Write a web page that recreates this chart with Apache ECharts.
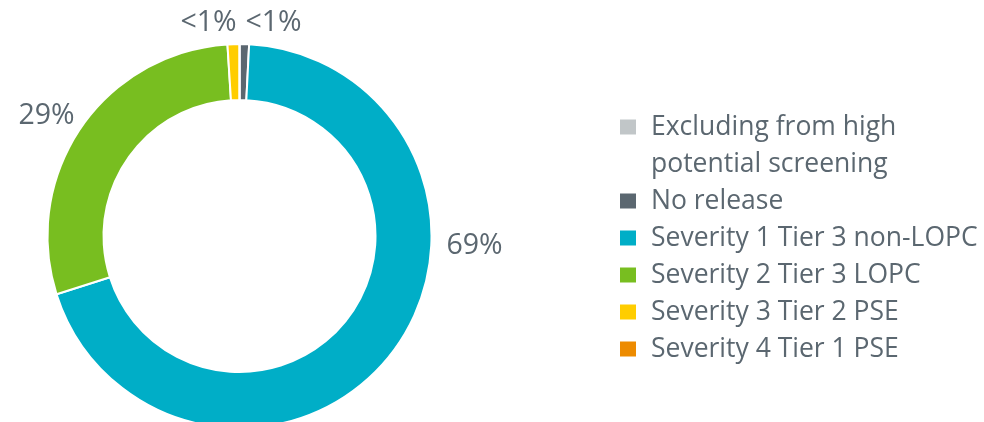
<!DOCTYPE html>
<html>
<head>
<meta charset="utf-8">
<script src="https://cdn.jsdelivr.net/npm/echarts@6/dist/echarts.min.js"></script>
<style>
html,body{margin:0;padding:0;background:#fff;}
#chart{width:984px;height:422px;}
</style>
</head>
<body>
<div id="chart"></div>
<script>
// ---- data ----
var categories = [
  'Excluding from high\npotential screening',
  'No release',
  'Severity 1 Tier 3 non-LOPC',
  'Severity 2 Tier 3 LOPC',
  'Severity 3 Tier 2 PSE',
  'Severity 4 Tier 1 PSE'
];
var values = [0, 0.8, 69.3, 28.9, 1.0, 0];
var valueLabels = ['', '<1%', '69%', '29%', '<1%', ''];
var colors = ['#c1c6c8', '#5b6770', '#00aec7', '#78be20', '#ffcd00', '#ed8b00'];

// ---- layout / styles ----
var textColor = '#5b6770';
var fontFamily = '"Open Sans", "Noto Sans", sans-serif';
var labelPos = { 1: [273.5, 23], 2: [474.5, 246], 3: [46.5, 115.5], 4: [208.5, 23] };
var legendLine = 37;

var chart = echarts.init(document.getElementById('chart'), null, { renderer: 'canvas' });

var pieData = categories.map(function (c, i) {
  return {
    name: c,
    value: values[i],
    itemStyle: { color: colors[i] },
    label: { show: valueLabels[i] !== '' }
  };
});

chart.setOption({
  animation: false,
  backgroundColor: '#ffffff',
  legend: {
    orient: 'vertical',
    left: 618,
    top: 71.5,
    padding: 0,
    itemGap: 0,
    itemWidth: 18,
    itemHeight: 17,
    selectedMode: false,
    icon: 'rect',
    data: categories,
    formatter: function (name) {
      // keep the icon level with the first line of a wrapped name
      return name.indexOf('\n') >= 0 ? '\u200b\n' + name : name;
    },
    textStyle: {
      color: textColor,
      fontFamily: fontFamily,
      fontSize: 26.5,
      lineHeight: legendLine,
      padding: [0, 0, 0, 9]
    }
  },
  series: [{
    type: 'pie',
    center: [239.5, 236],
    radius: [136, 192],
    startAngle: 90,
    clockwise: true,
    avoidLabelOverlap: false,
    silent: true,
    itemStyle: { borderColor: '#ffffff', borderWidth: 2 },
    label: {
      position: 'outside',
      color: textColor,
      fontFamily: fontFamily,
      fontSize: 28.5,
      formatter: function (p) { return valueLabels[p.dataIndex]; }
    },
    labelLine: { show: false },
    labelLayout: function (params) {
      var p = labelPos[params.dataIndex];
      if (!p) return {};
      return { x: p[0], y: p[1], align: 'center', verticalAlign: 'middle' };
    },
    data: pieData
  }]
});
</script>
</body>
</html>
